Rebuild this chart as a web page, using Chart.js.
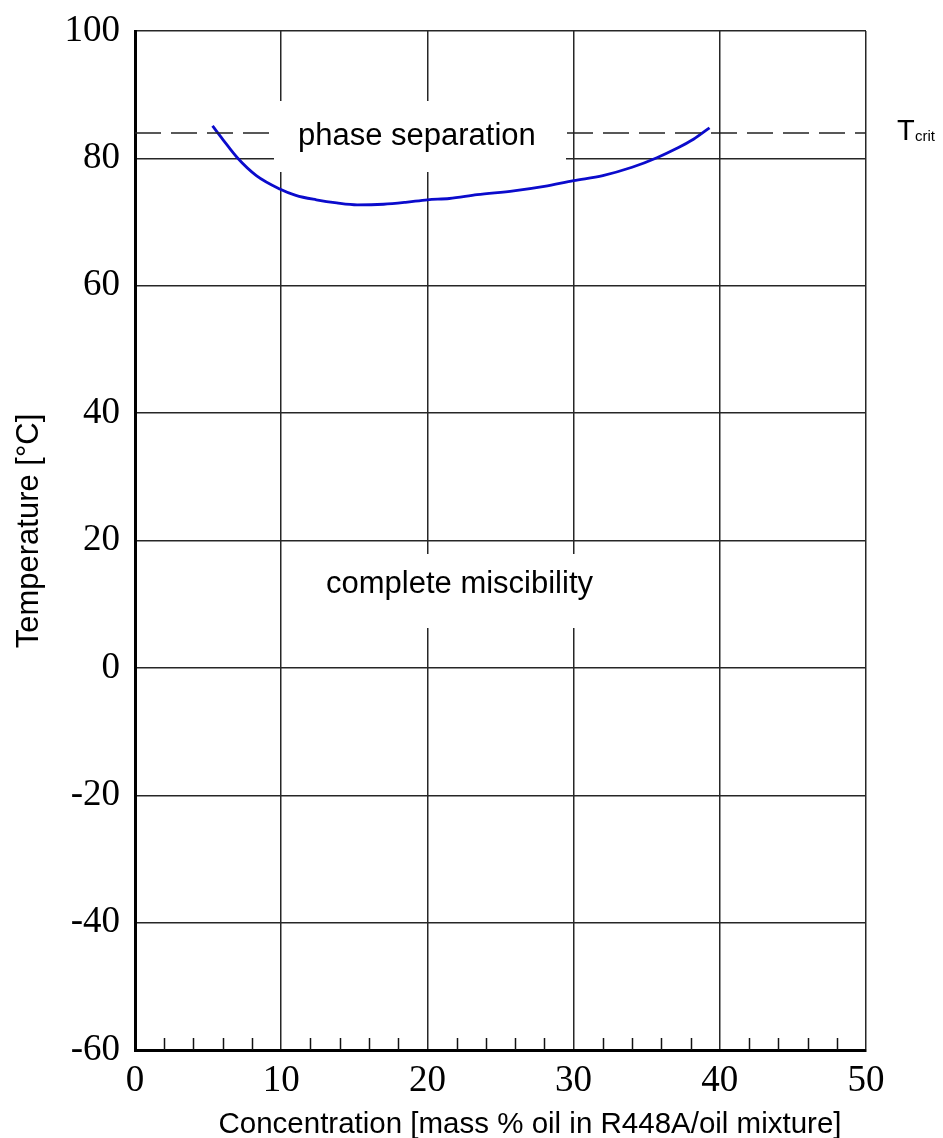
<!DOCTYPE html>
<html>
<head>
<meta charset="utf-8">
<script src="https://cdn.jsdelivr.net/npm/chart.js@4.4.0/dist/chart.umd.min.js"></script>
<style>
html,body{margin:0;padding:0;background:#fff;}
canvas{display:block;}
</style>
</head>
<body>
<canvas id="misc" width="943" height="1138"></canvas>
<script>
// miscibility curve
const concentration=[5.3,6.0,7.0,8.3,9.9,11.0,12.4,13.8,15.2,17.0,18.5,20.0,21.5,23.4,25.9,28.0,30.0,32.0,34.0,35.7,37.0,38.2,39.3];
const temperature=[85.1,83.0,80.1,77.3,75.2,74.2,73.5,73.0,72.7,72.8,73.1,73.5,73.7,74.3,74.9,75.6,76.5,77.3,78.6,80.1,81.5,83.0,84.8];

// critical temperature line
const tcritX=[0,50];
const tcritY=[84,84];

// axes
const xTicks=[0,10,20,30,40,50];
const yTicks=[-60,-40,-20,0,20,40,60,80,100];

const curvePts=concentration.map((c,i)=>({x:c,y:temperature[i]}));
const tcritPts=tcritX.map((c,i)=>({x:c,y:tcritY[i]}));

const gridCol='#262626';
const sans='"Liberation Sans", Arial, sans-serif';

/* labels in white boxes, minor ticks, T crit, axis titles */
const extras={
id:'extras',
beforeDatasetsDraw(chart){
const ctx=chart.ctx, xs=chart.scales.x, area=chart.chartArea;
ctx.save();
ctx.strokeStyle='#111';
ctx.lineWidth=1.5;
for(let v=xTicks[0]+2; v<xTicks[xTicks.length-1]; v+=2){
if(v%10===0) continue;
const px=Math.round(xs.getPixelForValue(v))+0.5;
ctx.beginPath();
ctx.moveTo(px,area.bottom);
ctx.lineTo(px,area.bottom-12);
ctx.stroke();
}
ctx.restore();
},
afterDatasetsDraw(chart){
const ctx=chart.ctx;
ctx.save();
ctx.fillStyle='#fff';
ctx.fillRect(274,101,292,71);
ctx.fillRect(290,554,325,74);
ctx.fillStyle='#000';
ctx.textBaseline='alphabetic';
ctx.font='31px '+sans;
ctx.fillText('phase separation',298,145);
ctx.fillText('complete miscibility',326,593);
ctx.font='29px '+sans;
ctx.fillText('T',897,140);
ctx.font='15px '+sans;
ctx.fillText('crit',915,141);
// axis titles
ctx.font='29.5px '+sans;
ctx.textAlign='center';
ctx.fillText('Concentration [mass % oil in R448A/oil mixture]',530,1133);
ctx.translate(38,531);
ctx.rotate(-Math.PI/2);
ctx.font='31px '+sans;
ctx.fillText('Temperature [°C]',0,0);
ctx.restore();
}
};

new Chart(document.getElementById('misc'),{
type:'scatter',
data:{
datasets:[
{
label:'Tcrit',
data:tcritPts,
showLine:true,
borderColor:'#222',
borderWidth:1.5,
borderDash:[26,10],
pointRadius:0
},
{
label:'miscibility',
data:curvePts,
showLine:true,
borderColor:'#0b0bcc',
borderWidth:2.8,
cubicInterpolationMode:'monotone',
pointRadius:0
}
]
},
options:{
responsive:false,
animation:false,
layout:{padding:{left:0,right:77,top:31,bottom:0}},
plugins:{legend:{display:false},tooltip:{enabled:false}},
scales:{
x:{
type:'linear',
min:xTicks[0],
max:xTicks[xTicks.length-1],
afterBuildTicks(s){s.ticks=xTicks.map(v=>({value:v}));},
afterFit(s){s.height=88;s.paddingLeft=0;s.paddingRight=0;},
grid:{color:gridCol,lineWidth:1.5,drawTicks:false},
border:{color:'#000',width:3},
ticks:{
color:'#000',
padding:9,
maxRotation:0,
font:{family:'"Liberation Serif", "Times New Roman", serif',size:37}
}
},
y:{
type:'linear',
min:yTicks[0],
max:yTicks[yTicks.length-1],
afterBuildTicks(s){s.ticks=yTicks.map(v=>({value:v}));},
afterFit(s){s.width=135;s.paddingTop=0;s.paddingBottom=0;},
grid:{color:gridCol,lineWidth:1.5,drawTicks:false},
border:{color:'#000',width:3},
ticks:{
color:'#000',
padding:15,
font:{family:'"Liberation Serif", "Times New Roman", serif',size:37}
}
}
}
},
plugins:[extras]
});
</script>
</body>
</html>
